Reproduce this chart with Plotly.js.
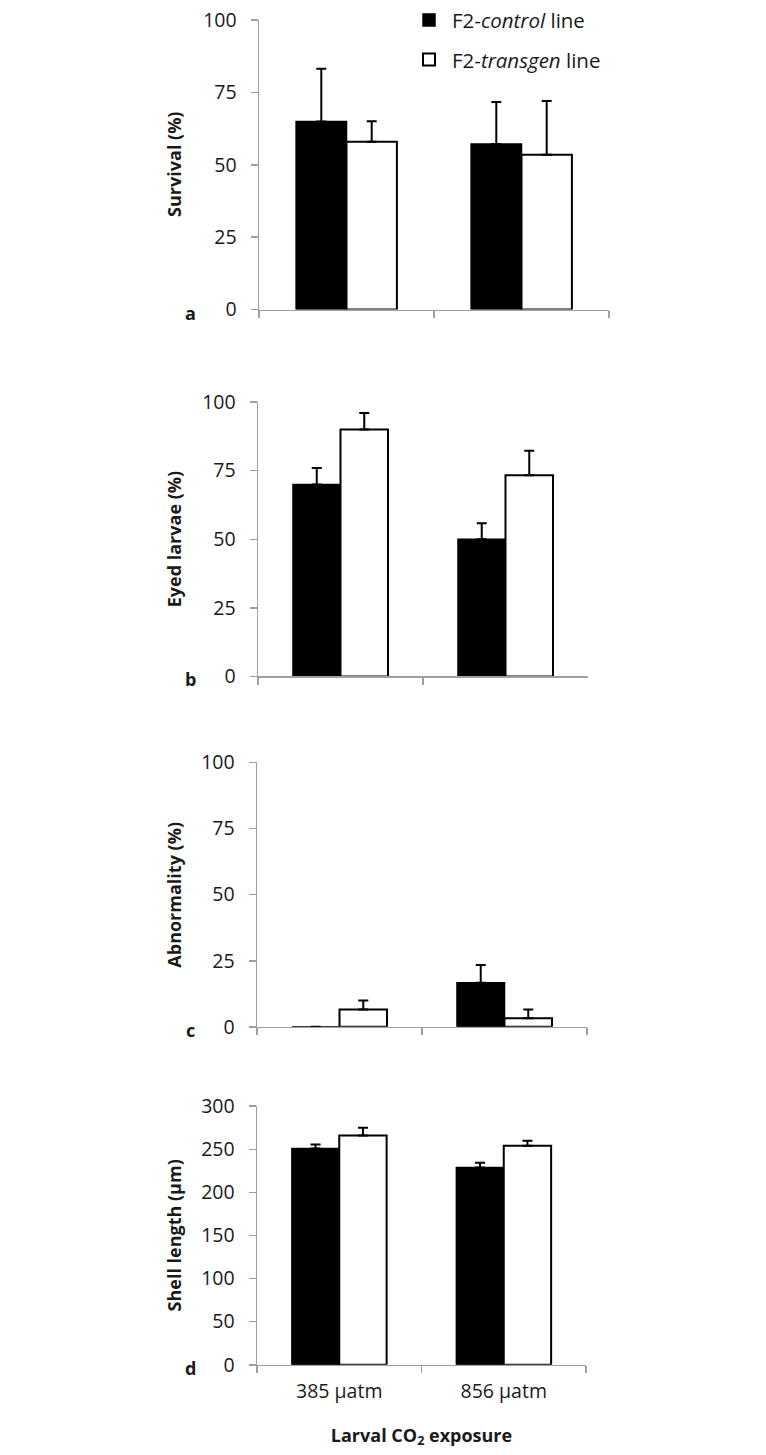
<!DOCTYPE html>
<html>
<head>
<meta charset="utf-8">
<script src="https://cdn.plot.ly/plotly-3.0.1.min.js"></script>
<style>html,body{margin:0;padding:0;background:#fff;}</style>
</head>
<body>
<div id="chart" style="width:766px;height:1455px;"></div>
<script>
// ---- data ----
const categories = ['385 µatm', '856 µatm'];
const seriesNames = ['F2-<i>control</i> line', 'F2-<i>transgen</i> line'];

const survivalControl = [65.0, 57.2];
const survivalControlErr = [18.2, 14.5];
const survivalTransgen = [58.0, 53.5];
const survivalTransgenErr = [7.1, 18.6];

const eyedControl = [70.0, 50.0];
const eyedControlErr = [6.0, 5.8];
const eyedTransgen = [90.0, 73.3];
const eyedTransgenErr = [6.0, 9.0];

const abnormalControl = [0.0, 16.7];
const abnormalControlErr = [0.0, 6.7];
const abnormalTransgen = [6.6, 3.3];
const abnormalTransgenErr = [3.4, 3.3];

const shellControl = [251.0, 229.0];
const shellControlErr = [4.5, 5.5];
const shellTransgen = [266.0, 254.0];
const shellTransgenErr = [9.0, 6.0];

const yTitles = ['Survival (%)', 'Eyed larvae (%)', 'Abnormality (%)', 'Shell length (µm)'];
const panelLetters = ['a', 'b', 'c', 'd'];
const xTitle = 'Larval CO<sub>2</sub> exposure';
const pctTicks = [0, 25, 50, 75, 100];
const shellTicks = [0, 50, 100, 150, 200, 250, 300];

// ---- layout helpers ----
const W = 766, H = 1455;
const px = p => p / W;
const py = p => 1 - p / H;

const panels = [
  {ctrl: survivalControl, ctrlE: survivalControlErr, tr: survivalTransgen, trE: survivalTransgenErr,
   x: [259, 609], y: [8.3, 300], range: [0, 100], ticks: pctTicks},
  {ctrl: eyedControl, ctrlE: eyedControlErr, tr: eyedTransgen, trE: eyedTransgenErr,
   x: [258, 588], y: [393.3, 670], range: [0, 100], ticks: pctTicks},
  {ctrl: abnormalControl, ctrlE: abnormalControlErr, tr: abnormalTransgen, trE: abnormalTransgenErr,
   x: [257, 587], y: [756.7, 1023.3], range: [0, 100], ticks: pctTicks},
  {ctrl: shellControl, ctrlE: shellControlErr, tr: shellTransgen, trE: shellTransgenErr,
   x: [257, 586], y: [1103.3, 1364], range: [0, 300], ticks: shellTicks}
];

const axisColor = '#a0a0a0';
const textColor = '#1a1a1a';
const tickFont = {family: 'Open Sans, sans-serif', size: 19.5, color: textColor};
const legendFont = {family: 'Open Sans, sans-serif', size: 20.5, color: textColor};
const boldFont = {family: 'Open Sans, sans-serif', size: 18, color: textColor, weight: 'bold'};

const traces = [];
const layout = {
  width: W, height: H,
  margin: {l: 0, r: 0, t: 0, b: 0},
  paper_bgcolor: '#fff', plot_bgcolor: 'rgba(0,0,0,0)',
  barmode: 'group', bargap: 0.424, bargroupgap: 0,
  showlegend: true,
  legend: {x: px(406), y: py(-12), xanchor: 'left', yanchor: 'top', itemwidth: 36,
           font: legendFont, bgcolor: 'rgba(0,0,0,0)', traceorder: 'grouped',
           tracegroupgap: 10},
  annotations: [],
  font: {family: 'Open Sans, sans-serif', color: textColor}
};

panels.forEach((p, i) => {
  const n = i + 1;
  const xa = 'x' + (n === 1 ? '' : n), ya = 'y' + (n === 1 ? '' : n);
  const errStyle = arr => ({type: 'data', array: arr, arrayminus: arr.map(() => 0), symmetric: false,
                            visible: true, color: '#000', thickness: 2, width: 5});
  traces.push({
    type: 'bar', x: categories, y: p.ctrl, name: seriesNames[0], xaxis: xa, yaxis: ya,
    marker: {color: '#000', line: {color: '#000', width: 1.5}},
    error_y: errStyle(p.ctrlE), legendgroup: 'ctrl', showlegend: i === 0, hoverinfo: 'y'
  });
  traces.push({
    type: 'bar', x: categories, y: p.tr, name: seriesNames[1], xaxis: xa, yaxis: ya,
    marker: {color: '#fff', line: {color: '#000', width: 2}},
    error_y: errStyle(p.trE), legendgroup: 'trans', showlegend: i === 0, hoverinfo: 'y'
  });
  const xaxis = {
    domain: [px(p.x[0]), px(p.x[1])], anchor: ya, type: 'category',
    showline: true, linecolor: axisColor, linewidth: 1.5,
    ticks: 'outside', tickson: 'boundaries', ticklen: 7, tickwidth: 1.5, tickcolor: axisColor,
    showgrid: false, zeroline: false, showticklabels: n === 4, tickfont: tickFont,
    ticklabelstandoff: 8, ticklabeloverflow: 'allow', fixedrange: true
  };
  if (n === 4) xaxis.title = {text: xTitle, font: boldFont, standoff: 26};
  layout['xaxis' + (n === 1 ? '' : n)] = xaxis;
  layout['yaxis' + (n === 1 ? '' : n)] = {
    domain: [py(p.y[1]), py(p.y[0])], anchor: xa, range: p.range,
    tickmode: 'array', tickvals: p.ticks, ticktext: p.ticks.map(String),
    showline: true, linecolor: axisColor, linewidth: 1.5,
    ticks: 'outside', ticklen: 7, tickwidth: 1.5, tickcolor: axisColor,
    showgrid: false, zeroline: false, tickfont: tickFont, ticklabelstandoff: 10,
    ticklabeloverflow: 'allow', fixedrange: true
  };
  layout.annotations.push({
    xref: 'paper', yref: 'paper', x: px(174), y: py((p.y[0] + p.y[1]) / 2),
    text: yTitles[i], textangle: -90, showarrow: false, font: boldFont,
    xanchor: 'center', yanchor: 'middle'
  });
  layout.annotations.push({
    xref: 'paper', yref: 'paper', x: px(190), y: py(p.y[1] + 3),
    text: '<b>' + panelLetters[i] + '</b>', showarrow: false, font: boldFont,
    xanchor: 'center', yanchor: 'middle'
  });
});

Plotly.newPlot('chart', traces, layout, {displayModeBar: false, staticPlot: true});
</script>
</body>
</html>
